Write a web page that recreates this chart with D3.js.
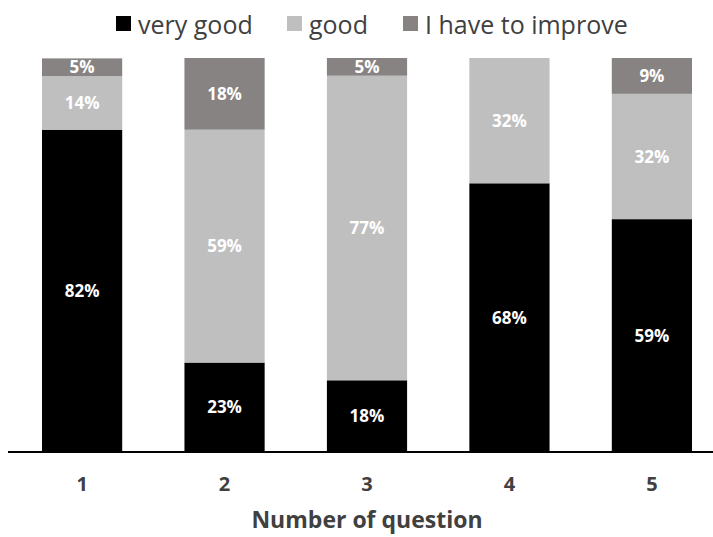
<!DOCTYPE html>
<html>
<head>
<meta charset="utf-8">
<script src="https://cdn.jsdelivr.net/npm/d3@7"></script>
<style>
  body { margin: 0; background: #fff; }
  text { font-family: "Open Sans", sans-serif; }
</style>
</head>
<body>
<div id="chart"></div>
<script>
// data (share of 22 answers, labels are rounded)
var questions = ["1", "2", "3", "4", "5"];
var seriesNames = ["very good", "good", "I have to improve"];
var veryGood = [81.8, 22.7, 18.2, 68.2, 59.1];
var good = [13.6, 59.1, 77.3, 31.8, 31.8];
var improve = [4.5, 18.2, 4.5, 0, 9.1];
var colors = ["#000000", "#bfbfbf", "#878382"];

var W = 713, H = 537;
var plotTop = 58, plotBottom = 452;

var svg = d3.select("#chart").append("svg")
  .attr("width", W)
  .attr("height", H);

var x = d3.scaleBand()
  .domain(questions)
  .range([42, 692])
  .paddingInner(0.437)
  .paddingOuter(0);

var y = d3.scaleLinear()
  .domain([0, 100])
  .range([plotBottom, plotTop]);

var rows = questions.map(function(q, i) {
  return {q: q, "very good": veryGood[i], "good": good[i], "I have to improve": improve[i]};
});
var stack = d3.stack().keys(seriesNames)(rows);

var layer = svg.selectAll(".layer")
  .data(stack)
  .enter().append("g")
  .attr("fill", function(d, i) { return colors[i]; });

layer.selectAll("rect")
  .data(function(d) { return d; })
  .enter().append("rect")
  .attr("x", function(d) { return x(d.data.q); })
  .attr("width", x.bandwidth())
  .attr("y", function(d) { return y(d[1]); })
  .attr("height", function(d) { return y(d[0]) - y(d[1]); });

// value labels
layer.selectAll("text")
  .data(function(d) { return d.filter(function(v) { return v[1] - v[0] > 0; }); })
  .enter().append("text")
  .attr("x", function(d) { return x(d.data.q) + x.bandwidth() / 2; })
  .attr("y", function(d) { return y((d[0] + d[1]) / 2); })
  .attr("dy", "0.36em")
  .attr("text-anchor", "middle")
  .attr("fill", "#fff")
  .style("font-size", "17px")
  .style("font-weight", "bold")
  .text(function(d) { return Math.round(d[1] - d[0]) + "%"; });

// x axis
var xAxis = svg.append("g")
  .attr("transform", "translate(0," + plotBottom + ")")
  .call(d3.axisBottom(x).tickSize(0).tickPadding(25));
xAxis.select(".domain")
  .attr("d", "M8,0H" + W)
  .attr("stroke", "#000")
  .attr("stroke-width", 2);
xAxis.selectAll("text")
  .style("font-family", "'Open Sans', sans-serif")
  .style("font-size", "20px")
  .style("font-weight", "bold")
  .attr("fill", "#404040");

svg.append("text")
  .attr("x", 367)
  .attr("y", 528)
  .attr("text-anchor", "middle")
  .attr("fill", "#404040")
  .style("font-size", "23px")
  .style("font-weight", "bold")
  .text("Number of question");

// legend
var legendX = [116, 287, 403];
var legend = svg.selectAll(".legend")
  .data(seriesNames)
  .enter().append("g")
  .attr("transform", function(d, i) { return "translate(" + legendX[i] + ",16)"; });
legend.append("rect")
  .attr("width", 15)
  .attr("height", 15)
  .attr("fill", function(d, i) { return colors[i]; });
legend.append("text")
  .attr("x", 22)
  .attr("y", 18)
  .attr("fill", "#404040")
  .style("font-size", "25px")
  .text(function(d) { return d; });
</script>
</body>
</html>
